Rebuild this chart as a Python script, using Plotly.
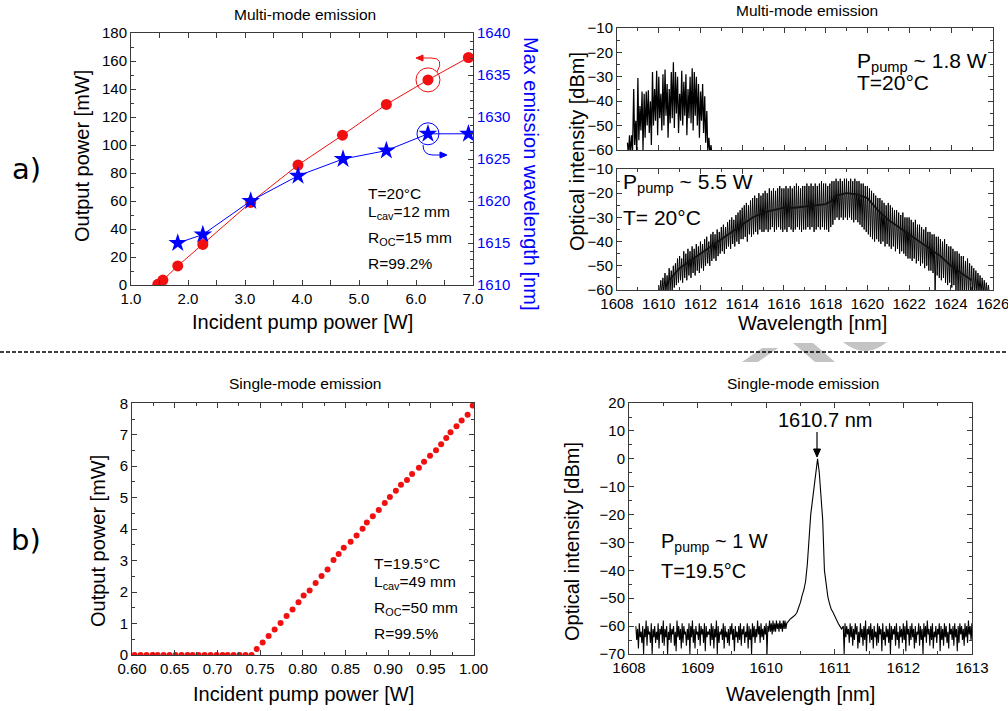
import numpy as np
import plotly.graph_objects as go

W, H = 1008, 711


def px(x):
    return x / W


def py(y):
    return 1 - y / H


# ---------------- data: a) multi-mode, power & wavelength vs pump ----------------
pump_mm = [1.47, 1.56, 1.82, 2.26, 3.10, 3.93, 4.71, 5.48, 6.21, 6.92]
out_mm = [0.5, 3.5, 13.6, 29.0, 59.0, 85.7, 107.0, 129.0, 146.5, 162.5]
pump_wl = [1.82, 2.26, 3.10, 3.93, 4.72, 5.48, 6.21, 6.92]
max_wl = [1615.0, 1616.0, 1620.0, 1623.0, 1625.0, 1626.0, 1628.0, 1628.0]

# ---------------- data: a) multi-mode spectrum at 1.8 W (mode peaks / valleys) ----------------
hi_start, hi_step = 1608.5, 0.1
hi_top = [-57, -54, -54, -35, -48, -30.5, -42, -36, -37, -36,
          -35.5, -40, -28, -35, -27.5, -30, -37, -29, -27, -33,
          -35, -28, -24, -28, -30, -37, -27.5, -32, -29, -35,
          -30, -26.5, -28, -30, -33, -36, -33, -38, -44, -55,
          -58]
hi_bot = [-62, -62, -60, -58, -62, -56, -52, -60, -55, -50,
          -53, -58, -50, -48, -54, -47, -52, -50, -46, -55,
          -49, -47, -51, -45, -53, -48, -50, -46, -54, -47,
          -49, -52, -46, -50, -55, -48, -53, -57, -60, -62,
          -62]

# ---------------- data: a) multi-mode spectrum at 5.5 W ----------------
lo_start, lo_step = 1610.0, 0.1
lo_top = [-58, -56, -55, -53, -54, -51, -52, -50, -49, -47,
          -46, -47, -44, -45, -43, -44, -42, -43, -41, -42,
          -40, -41, -39, -38, -40, -37, -36, -37, -35, -36,
          -34, -33, -34, -32, -31, -30, -31, -29, -28, -27,
          -26, -25, -24, -25, -23, -22, -21, -22, -20, -21,
          -20, -19, -20, -18, -19, -18, -19, -18, -17, -18,
          -18, -17, -18, -17, -18, -17, -16, -17, -18, -17,
          -17, -16, -17, -16, -17, -16, -17, -16, -15, -16,
          -16, -17, -16, -15, -15, -14, -15, -14, -15, -14,
          -14, -15, -14, -15, -14, -15, -15, -16, -16, -17,
          -17, -18, -19, -20, -21, -22, -22, -23, -24, -25,
          -24, -25, -26, -27, -27, -28, -29, -28, -30, -30,
          -30, -31, -32, -31, -33, -33, -34, -35, -34, -36,
          -36, -37, -37, -38, -38, -39, -40, -39, -41, -42,
          -42, -43, -44, -44, -45, -46, -46, -48, -47, -49,
          -50, -51, -52, -53, -54, -55, -56, -57, -58]
lo_bot = [-62, -62, -62, -62, -61, -60, -60, -59, -58, -57,
          -56, -57, -55, -56, -54, -55, -53, -54, -52, -53,
          -51, -52, -50, -49, -50, -48, -47, -48, -46, -45,
          -44, -45, -43, -42, -43, -41, -42, -40, -41, -39,
          -39, -38, -40, -37, -38, -37, -36, -37, -35, -36,
          -36, -35, -36, -35, -34, -36, -35, -34, -35, -36,
          -35, -36, -34, -35, -36, -35, -34, -35, -36, -35,
          -35, -34, -35, -34, -36, -35, -34, -35, -34, -35,
          -35, -36, -34, -33, -31, -30, -31, -30, -31, -30,
          -31, -30, -31, -32, -31, -32, -33, -34, -35, -36,
          -37, -38, -39, -40, -39, -40, -41, -40, -42, -41,
          -42, -43, -42, -44, -43, -45, -44, -45, -46, -47,
          -47, -48, -47, -49, -48, -50, -49, -51, -50, -52,
          -52, -53, -62, -54, -55, -56, -55, -57, -58, -57,
          -59, -58, -60, -62, -61, -62, -62, -62, -62, -62,
          -62, -62, -62, -62, -62, -62, -62, -62, -62]
core_wl = [1610.5, 1611.0, 1611.5, 1612.0, 1612.5, 1613.0, 1613.5, 1614.0, 1614.5, 1615.0,
           1615.5, 1616.0, 1616.5, 1617.0, 1617.5, 1618.0, 1618.3, 1618.5, 1619.0, 1619.5,
           1620.0, 1620.5, 1621.0, 1621.5, 1622.0, 1622.5, 1623.0, 1623.5, 1624.0, 1624.5, 1625.0]
core_db = [-56, -51, -48, -45, -42, -39, -36, -33, -30, -28,
           -27, -26, -26, -25.5, -25, -24.5, -23, -21, -20, -20.5,
           -22, -27, -31, -34, -37, -40, -43, -46, -50, -53, -56]

# ---------------- data: b) single-mode output power ----------------
sm_pump = [0.603, 0.610, 0.617, 0.624, 0.630, 0.637, 0.644, 0.651, 0.658, 0.665,
           0.671, 0.678, 0.685, 0.692, 0.699, 0.706, 0.712, 0.719, 0.726, 0.733, 0.740,
           0.746, 0.753, 0.760, 0.767, 0.774, 0.781, 0.788, 0.795, 0.801, 0.808,
           0.815, 0.822, 0.829, 0.836, 0.842, 0.848, 0.856, 0.863, 0.870, 0.875,
           0.882, 0.889, 0.896, 0.902, 0.909, 0.915, 0.922, 0.928, 0.936, 0.942,
           0.949, 0.956, 0.962, 0.968, 0.973, 0.980, 0.986, 0.993, 0.999]
sm_out = [0, 0, 0, 0, 0, 0, 0, 0, 0, 0,
          0, 0, 0, 0, 0, 0, 0, 0, 0, 0, 0,
          0.19, 0.40, 0.60, 0.81, 1.02, 1.24, 1.45, 1.68, 1.89, 2.05,
          2.29, 2.51, 2.72, 3.02, 3.21, 3.41, 3.60, 3.80, 4.01, 4.21,
          4.41, 4.61, 4.83, 5.02, 5.22, 5.41, 5.56, 5.75, 5.95, 6.14,
          6.33, 6.51, 6.70, 6.90, 7.08, 7.27, 7.45, 7.64, 7.93]

# ---------------- data: b) single-mode spectrum ----------------
sm_step = 0.025
# noise floor left of the line: per-bin upper / lower excursions
nl_start = 1608.1
nl_hi = [-60, -61, -59, -62, -60, -61, -58, -60, -62, -59,
         -61, -60, -62, -59, -61, -60, -58, -61, -60, -62,
         -59, -61, -60, -62, -58, -60, -61, -59, -60, -62,
         -61, -59, -60, -58, -61, -60, -62, -59, -60, -61,
         -59, -60, -62, -61, -59, -60, -61, -58, -60, -62,
         -61, -59, -60, -62, -61, -60, -59, -61, -60, -62,
         -60, -59, -61, -60, -62, -59, -60, -61, -59, -60,
         -61, -58, -60, -59, -61, -60, -59, -60, -58, -59,
         -58, -59, -58, -59, -58, -59, -58, -58]
nl_lo = [-65, -68, -64, -66, -70, -64, -67, -63, -66, -70,
         -64, -66, -65, -68, -63, -66, -67, -64, -70, -65,
         -66, -63, -67, -69, -64, -65, -68, -66, -63, -67,
         -65, -70, -64, -66, -68, -63, -65, -67, -63, -66,
         -69, -64, -63, -67, -65, -68, -64, -70, -66, -63,
         -65, -68, -64, -66, -67, -63, -65, -69, -64, -66,
         -65, -67, -63, -66, -64, -68, -65, -70, -64, -66,
         -64, -63, -66, -64, -65, -63, -70, -62, -62, -63,
         -62, -62, -61, -62, -61, -62, -61, -61]
# lasing line
pk_start = 1610.3
pk_db = [-59, -58, -57.5, -57, -56.5, -56, -55, -53.5, -51.5, -49,
         -47, -44, -38, -29, -20, -15, -10, -3, 0, -5,
         -12, -22, -40, -46, -49.5, -52, -54, -55, -56.5, -57.5,
         -59, -60, -61]
# noise floor right of the line
nr_start = 1611.125
nr_hi = [-60, -59, -60, -61, -59, -60, -61, -59, -60, -62,
         -59, -61, -60, -58, -61, -60, -59, -61, -60, -62,
         -59, -60, -61, -59, -62, -60, -61, -59, -60, -61,
         -60, -59, -62, -60, -61, -59, -60, -58, -61, -60,
         -59, -61, -60, -62, -59, -60, -61, -59, -60, -58,
         -61, -60, -59, -62, -60, -61, -59, -60, -61, -59,
         -60, -62, -59, -61, -60, -59, -61, -60, -59, -60,
         -61, -59, -60, -58, -60, -59]
nr_lo = [-70, -64, -63, -66, -64, -67, -65, -63, -68, -66,
         -64, -67, -65, -69, -63, -66, -65, -68, -64, -67,
         -66, -63, -69, -65, -67, -64, -66, -70, -65, -63,
         -67, -65, -68, -64, -66, -65, -69, -63, -67, -65,
         -64, -68, -66, -63, -67, -65, -70, -64, -66, -63,
         -67, -65, -68, -64, -66, -63, -69, -65, -67, -64,
         -66, -68, -63, -65, -67, -64, -69, -66, -63, -65,
         -67, -64, -66, -63, -65, -67]

# ---------------- styling ----------------
FONT = "Liberation Sans, Arial, sans-serif"
RED = "#f01010"
BLUE = "#0000ff"
FRAME = "#3a3a3a"
TICK_SIZE = 15
TITLE_SIZE = 20
HEAD_SIZE = 15.5
BOX_SIZE = 15.5


def comb(start, step, tops, bots, frac=0.45):
    xs, ys = [], []
    for i, (t, b) in enumerate(zip(tops, bots)):
        x = start + step * i
        xs += [x, x + step * frac]
        ys += [t, b]
    return xs, ys


fig = go.Figure()

# a) left panel
fig.add_trace(go.Scatter(x=pump_mm, y=out_mm, mode="lines+markers",
                         line=dict(color=RED, width=1),
                         marker=dict(color=RED, size=11), xaxis="x", yaxis="y"))
fig.add_trace(go.Scatter(x=pump_wl, y=max_wl, mode="lines+markers",
                         line=dict(color=BLUE, width=1),
                         marker=dict(color=BLUE, size=14, symbol="star"),
                         xaxis="x", yaxis="y2"))

# a) right panels
hx, hy = comb(hi_start, hi_step, hi_top, hi_bot)
fig.add_trace(go.Scatter(x=hx, y=hy, mode="lines", line=dict(color="black", width=1.25),
                         xaxis="x3", yaxis="y3"))
lx, ly = comb(lo_start, lo_step, lo_top, lo_bot)
fig.add_trace(go.Scatter(x=lx, y=ly, mode="lines", line=dict(color="black", width=1),
                         xaxis="x4", yaxis="y4"))
fig.add_trace(go.Scatter(x=core_wl, y=core_db, mode="lines", line=dict(color="#111", width=1.8),
                         xaxis="x4", yaxis="y4"))

# b) left
fig.add_trace(go.Scatter(x=sm_pump, y=sm_out, mode="markers",
                         marker=dict(color=RED, size=6), xaxis="x5", yaxis="y5"))

# b) right
ax_, ay_ = comb(nl_start, sm_step, nl_hi, nl_lo, 0.5)
bx_ = list(np.round(pk_start + sm_step * np.arange(len(pk_db)), 4))
cx_, cy_ = comb(nr_start, sm_step, nr_hi, nr_lo, 0.5)
fig.add_trace(go.Scatter(x=ax_ + bx_ + cx_, y=ay_ + pk_db + cy_, mode="lines",
                         line=dict(color="black", width=1.1), xaxis="x6", yaxis="y6"))


def axis(domain, rng, dtick, minor, anchor, **kw):
    d = dict(domain=domain, range=rng, dtick=dtick, anchor=anchor, automargin=False,
             showline=True, linecolor=FRAME, linewidth=1, mirror="allticks",
             ticks="inside", ticklen=5, tickcolor=FRAME, showgrid=False, zeroline=False,
             ticklabeloverflow="allow",
             tickfont=dict(family=FONT, size=TICK_SIZE, color="black"),
             minor=dict(ticks="inside", ticklen=3, tickcolor=FRAME, dtick=minor, showgrid=False))
    d.update(kw)
    return d


fig.update_layout(
    template="none",
    width=W, height=H, margin=dict(l=0, r=0, t=0, b=0, pad=0), autosize=False,
    paper_bgcolor="white", plot_bgcolor="white", showlegend=False,
    xaxis=axis([px(131), px(473)], [1, 7], 1, 0.5, "y", tickformat=".1f", tick0=1),
    yaxis=axis([py(285), py(33)], [0, 180], 20, 10, "x", mirror=True),
    yaxis2=axis([py(285), py(33)], [1610, 1640], 5, 1, "x", overlaying="y", side="right",
                mirror=False, tickfont=dict(family=FONT, size=TICK_SIZE, color=BLUE)),
    xaxis3=axis([px(617), px(993)], [1608, 1626], 2, 1, "y3", showticklabels=False),
    yaxis3=axis([py(150), py(28)], [-60.02, -9.98], 10, 5, "x3"),
    xaxis4=axis([px(617), px(993)], [1608, 1626.02], 2, 1, "y4"),
    yaxis4=axis([py(290), py(169)], [-60.02, -9.98], 10, 5, "x4"),
    xaxis5=axis([px(132), px(474)], [0.6, 1.0005], 0.05, 0.025, "y5", tickformat=".2f", tick0=0.6),
    yaxis5=axis([py(655), py(403)], [0, 8.01], 1, 0.5, "x5"),
    xaxis6=axis([px(629), px(972)], [1608, 1613.002], 1, 0.5, "y6"),
    yaxis6=axis([py(654), py(403)], [-70, 20.02], 10, 5, "x6"),
)

ann = []


def text(x, y, s, size, color="black", angle=0, xanchor="center", yanchor="middle", family=FONT):
    ann.append(dict(x=px(x), y=py(y), xref="paper", yref="paper", text=s, showarrow=False,
                    textangle=angle, xanchor=xanchor, yanchor=yanchor,
                    font=dict(family=family, size=size, color=color)))


# panel titles
text(305, 15, "Multi-mode emission", HEAD_SIZE)
text(807, 11, "Multi-mode emission", HEAD_SIZE)
text(305, 383, "Single-mode emission", HEAD_SIZE)
text(803, 383, "Single-mode emission", HEAD_SIZE)

# axis titles
text(82, 156, "Output power [mW]", TITLE_SIZE, angle=-90)
text(302, 322, "Incident pump power [W]", TITLE_SIZE)
text(531, 173, "Max emission wavelength [nm]", TITLE_SIZE, color=BLUE, angle=90)
text(577, 152, "Optical intensity [dBm]", TITLE_SIZE, angle=-90)
text(812, 323, "Wavelength [nm]", TITLE_SIZE)
text(98, 541, "Output power [mW]", TITLE_SIZE, angle=-90)
text(303, 694, "Incident pump power [W]", TITLE_SIZE)
text(572, 542, "Optical intensity [dBm]", TITLE_SIZE, angle=-90)
text(800, 694, "Wavelength [nm]", TITLE_SIZE)

# a) / b)
text(26, 169, "a)", 29, family="DejaVu Sans, sans-serif")
text(26, 540, "b)", 29, family="DejaVu Sans, sans-serif")

# parameter boxes
for yy, s in [(194, "T=20°C"), (212, "L<sub>cav</sub>=12 mm"), (238, "R<sub>OC</sub>=15 mm"), (263, "R=99.2%")]:
    text(366, yy, s, BOX_SIZE, xanchor="left")
for yy, s in [(563, "T=19.5°C"), (582, "L<sub>cav</sub>=49 mm"), (608, "R<sub>OC</sub>=50 mm"), (633, "R=99.5%")]:
    text(372, yy, s, BOX_SIZE, xanchor="left")
text(855, 62, "P<sub>pump</sub> ~ 1.8 W", 21, xanchor="left")
text(855, 82, "T=20°C", 21, xanchor="left")
text(621, 183, "P<sub>pump</sub> ~ 5.5 W", 21, xanchor="left")
text(621, 217, "T= 20°C", 21, xanchor="left")
text(659, 542, "P<sub>pump</sub> ~ 1 W", 20, xanchor="left")
text(659, 571, "T=19.5°C", 20, xanchor="left")

# peak label
text(825, 420, "1610.7 nm", 20)

fig.update_layout(annotations=ann)


def tri(p1, p2, p3, color):
    return dict(type="path", xref="paper", yref="paper",
                path=f"M {px(p1[0])},{py(p1[1])} L {px(p2[0])},{py(p2[1])} L {px(p3[0])},{py(p3[1])} Z",
                fillcolor=color, line=dict(color=color, width=1))


shapes = []
# gray decorative remnants near the divider
shapes.append(dict(type="path", xref="paper", yref="paper", layer="below",
                   path=f"M {px(742)},{py(362)} L {px(762)},{py(348)} L {px(778)},{py(348)} L {px(758)},{py(362)} Z",
                   fillcolor="#c4c4c4", line=dict(width=0)))
shapes.append(dict(type="path", xref="paper", yref="paper", layer="below",
                   path=f"M {px(793)},{py(343)} L {px(813)},{py(343)} L {px(835)},{py(362)} L {px(815)},{py(362)} Z",
                   fillcolor="#c4c4c4", line=dict(width=0)))
shapes.append(dict(type="path", xref="paper", yref="paper", layer="below",
                   path=f"M {px(843)},{py(342)} Q {px(865)},{py(360)} {px(887)},{py(342)} Z",
                   fillcolor="#c4c4c4", line=dict(width=0)))
# dashed divider
shapes.append(dict(type="line", xref="paper", yref="paper", x0=0, x1=1, y0=py(352), y1=py(352),
                   line=dict(color="black", width=1.3, dash="4px,2px")))
# circles around selected points
shapes.append(dict(type="circle", xref="x", yref="y", xsizemode="pixel", ysizemode="pixel",
                   xanchor=pump_mm[8], yanchor=out_mm[8], x0=-12, x1=12, y0=-12, y1=12,
                   line=dict(color=RED, width=1)))
shapes.append(dict(type="circle", xref="x", yref="y2", xsizemode="pixel", ysizemode="pixel",
                   xanchor=pump_wl[6], yanchor=max_wl[6], x0=-11, x1=11, y0=-11, y1=11,
                   line=dict(color=BLUE, width=1)))
# curved arrows
shapes.append(dict(type="path", xref="paper", yref="paper",
                   path=f"M {px(437)},{py(72)} Q {px(445)},{py(58)} {px(431)},{py(58)} L {px(421)},{py(58)}",
                   line=dict(color=RED, width=1)))
shapes.append(tri((416, 58), (423, 55), (423, 61), RED))
shapes.append(dict(type="path", xref="paper", yref="paper",
                   path=f"M {px(423)},{py(145)} Q {px(423)},{py(155)} {px(433)},{py(155)} L {px(442)},{py(155)}",
                   line=dict(color=BLUE, width=1)))
shapes.append(tri((447, 155), (440, 152), (440, 158), BLUE))
# arrow to the single-mode peak
shapes.append(dict(type="line", xref="paper", yref="paper", x0=px(817), x1=px(817), y0=py(432), y1=py(450),
                   line=dict(color="black", width=1.2)))
shapes.append(tri((817, 457), (813.5, 449), (820.5, 449), "black"))
fig.update_layout(shapes=shapes)

fig.write_html("out.html", config={"displayModeBar": False},
               post_script="document.body.style.margin='0px';document.body.style.padding='0px';")
